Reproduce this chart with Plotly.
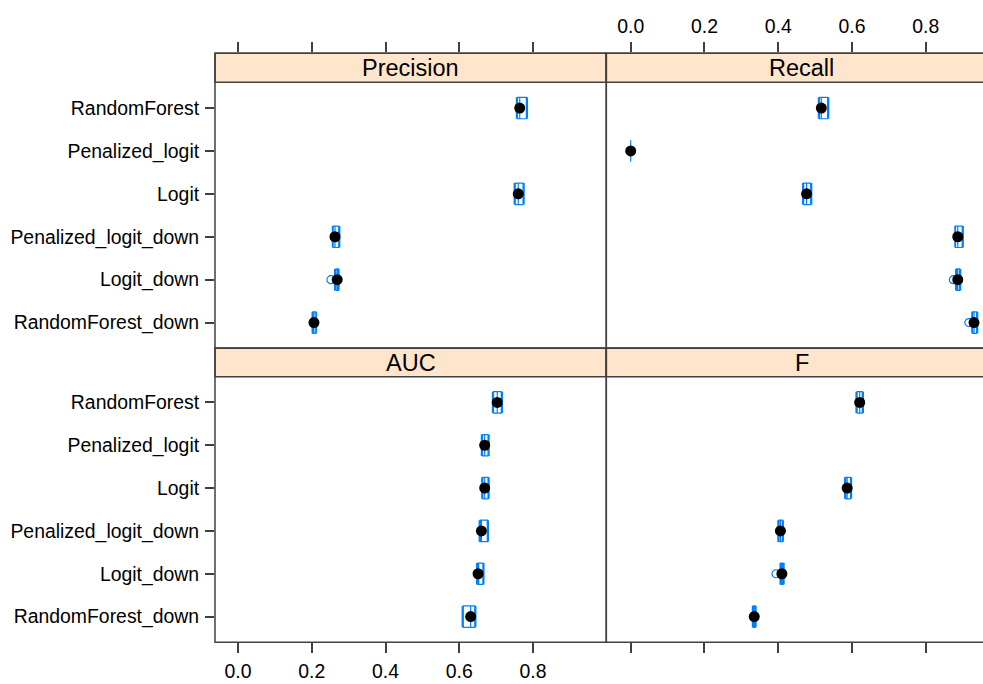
import plotly.graph_objects as go

W, H = 983, 684

models = ["RandomForest", "Penalized_logit", "Logit",
          "Penalized_logit_down", "Logit_down", "RandomForest_down"]
positions = [6, 5, 4, 3, 2, 1]

metrics = ["Precision", "Recall", "AUC", "F"]

precision_median = [0.764, None, 0.760, 0.263, 0.269, 0.206]
precision_q1 = [0.758, None, 0.752, 0.258, 0.265, 0.203]
precision_q3 = [0.782, None, 0.773, 0.273, 0.272, 0.211]
precision_lo = [0.755, None, 0.749, 0.256, 0.262, 0.201]
precision_hi = [0.785, None, 0.776, 0.276, 0.274, 0.213]
precision_out = {"Logit_down": [0.252]}

recall_median = [0.517, 0.0, 0.477, 0.887, 0.887, 0.931]
recall_q1 = [0.512, 0.0, 0.469, 0.881, 0.884, 0.927]
recall_q3 = [0.534, 0.0, 0.488, 0.899, 0.892, 0.938]
recall_lo = [0.509, 0.0, 0.466, 0.879, 0.881, 0.925]
recall_hi = [0.537, 0.0, 0.491, 0.902, 0.895, 0.941]
recall_out = {"Logit_down": [0.875], "RandomForest_down": [0.917]}

auc_median = [0.703, 0.669, 0.669, 0.660, 0.651, 0.631]
auc_q1 = [0.693, 0.663, 0.664, 0.657, 0.650, 0.611]
auc_q3 = [0.714, 0.678, 0.678, 0.676, 0.664, 0.642]
auc_lo = [0.690, 0.660, 0.661, 0.654, 0.647, 0.608]
auc_hi = [0.717, 0.681, 0.681, 0.679, 0.667, 0.645]
auc_out = {}

f_median = [0.621, None, 0.587, 0.406, 0.410, 0.335]
f_q1 = [0.614, None, 0.583, 0.402, 0.407, 0.332]
f_q3 = [0.628, None, 0.596, 0.411, 0.413, 0.338]
f_lo = [0.611, None, 0.580, 0.399, 0.405, 0.330]
f_hi = [0.631, None, 0.599, 0.414, 0.416, 0.340]
f_out = {"Logit_down": [0.394]}

tick_vals = [0.0, 0.2, 0.4, 0.6, 0.8]
tick_text = ["0.0", "0.2", "0.4", "0.6", "0.8"]

panel_data = [
    (precision_median, precision_q1, precision_q3, precision_lo, precision_hi, precision_out),
    (recall_median, recall_q1, recall_q3, recall_lo, recall_hi, recall_out),
    (auc_median, auc_q1, auc_q3, auc_lo, auc_hi, auc_out),
    (f_median, f_q1, f_q3, f_lo, f_hi, f_out),
]

BLUE = "#0080ff"
STRIP = "#ffe5cc"
LINE = "#404040"
FONT = "Liberation Sans, Arial, sans-serif"

# pixel geometry
xl0, xm, xr1 = 215.0, 606.3, 983.0
top_strip_top, top_strip_bot, mid = 53.3, 82.3, 348.3
bot_strip_bot, bot_bot = 376.7, 642.3

def px(x):
    return x / W

def py(y):
    return 1 - y / H

fig = go.Figure()

axis_names = [("x", "y"), ("x2", "y2"), ("x3", "y3"), ("x4", "y4")]

for i, (med, q1, q3, lo, hi, outs) in enumerate(panel_data):
    xa, ya = axis_names[i]
    ys, m_, a, b, l, h = [], [], [], [], [], []
    for j in range(len(models)):
        if med[j] is None:
            continue
        ys.append(positions[j]); m_.append(med[j]); a.append(q1[j]); b.append(q3[j])
        l.append(lo[j]); h.append(hi[j])
    fig.add_trace(go.Box(
        y=ys, median=m_, q1=a, q3=b, lowerfence=l, upperfence=h,
        orientation="h", width=0.5, whiskerwidth=1,
        line=dict(color=BLUE, width=1.2), fillcolor="rgba(255,255,255,0)",
        boxpoints=False, xaxis=xa, yaxis=ya, showlegend=False, hoverinfo="skip",
    ))
    ox, oy = [], []
    for name, vals in outs.items():
        for v in vals:
            ox.append(v); oy.append(positions[models.index(name)])
    if ox:
        fig.add_trace(go.Scatter(
            x=ox, y=oy, mode="markers", xaxis=xa, yaxis=ya, showlegend=False,
            marker=dict(symbol="circle-open", size=8, color=BLUE, line=dict(width=1.2)),
        ))
    fig.add_trace(go.Scatter(
        x=m_, y=ys, mode="markers", xaxis=xa, yaxis=ya, showlegend=False,
        marker=dict(symbol="circle", size=11, color="black"),
    ))

x_left_dom = [px(xl0), px(xm)]
x_right_dom = [px(xm), 1.0]
y_top_dom = [py(mid), py(top_strip_top)]
y_bot_dom = [py(bot_bot), py(mid)]

ppu = (533 - 238) / 0.8
x_left_range = [-(238 - xl0) / ppu, -(238 - xl0) / ppu + (xm - xl0) / ppu]
x_right_range = [-(630.7 - xm) / ppu, -(630.7 - xm) / ppu + (xr1 - xm) / ppu]

top_lo, top_hi = 0.4, 6.6
bot_lo, bot_hi = 0.4, 6.6
top_ppu = (mid - top_strip_bot) / (top_hi - top_lo)
bot_ppu = (bot_bot - bot_strip_bot) / (bot_hi - bot_lo)
y_top_range = [top_lo, top_hi + (top_strip_bot - top_strip_top) / top_ppu]
y_bot_range = [bot_lo, bot_hi + (bot_strip_bot - mid) / bot_ppu]

font_tick = dict(family=FONT, size=19.4, color="black")

def xaxis(dom, rng, side, labels, yanchor, standoff):
    return dict(domain=dom, range=rng, side=side, anchor=yanchor,
                tickvals=tick_vals, ticktext=tick_text, ticks="outside",
                ticklen=10, tickwidth=1.5, tickcolor=LINE,
                showticklabels=labels, showgrid=False, zeroline=False,
                showline=False, tickfont=font_tick, ticklabelstandoff=standoff,
                automargin=False, fixedrange=True)

def yaxis(dom, rng, labels, xanchor):
    return dict(domain=dom, range=rng, anchor=xanchor,
                tickvals=positions if labels else [], ticktext=models if labels else [],
                ticks="outside" if labels else "", ticklen=9, tickwidth=1.5,
                tickcolor=LINE, showticklabels=labels, showgrid=False,
                zeroline=False, showline=False, tickfont=font_tick,
                ticklabelstandoff=2, automargin=False, fixedrange=True)

fig.update_layout(
    width=W, height=H, margin=dict(l=0, r=0, t=0, b=0, autoexpand=False),
    paper_bgcolor="white", plot_bgcolor="white",
    xaxis=xaxis(x_left_dom, x_left_range, "top", False, "y", 8),
    xaxis2=xaxis(x_right_dom, x_right_range, "top", True, "y2", 2),
    xaxis3=xaxis(x_left_dom, x_left_range, "bottom", True, "y3", 1),
    xaxis4=xaxis(x_right_dom, x_right_range, "bottom", False, "y4", 8),
    yaxis=yaxis(y_top_dom, y_top_range, True, "x"),
    yaxis2=yaxis(y_top_dom, y_top_range, False, "x2"),
    yaxis3=yaxis(y_bot_dom, y_bot_range, True, "x3"),
    yaxis4=yaxis(y_bot_dom, y_bot_range, False, "x4"),
)

shapes = []
annotations = []
strips = [
    (xl0, xm, top_strip_top, top_strip_bot, metrics[0]),
    (xm, xr1 + 5, top_strip_top, top_strip_bot, metrics[1]),
    (xl0, xm, mid, bot_strip_bot, metrics[2]),
    (xm, xr1 + 5, mid, bot_strip_bot, metrics[3]),
]
for x0, x1, y0, y1, label in strips:
    shapes.append(dict(type="rect", xref="paper", yref="paper",
                       x0=px(x0), x1=px(x1), y0=py(y1), y1=py(y0),
                       fillcolor=STRIP, line=dict(color=LINE, width=1.5), layer="above"))
    cx = (x0 + (x0 + (xm - xl0))) / 2
    annotations.append(dict(xref="paper", yref="paper",
                            x=px(cx), y=py((y0 + y1) / 2 + 0.5),
                            text=label, showarrow=False, xanchor="center", yanchor="middle",
                            font=dict(family=FONT, size=23.5, color="black")))
# panel borders
for x0, x1, y0, y1 in [(xl0, xm, top_strip_top, mid), (xm, xr1 + 5, top_strip_top, mid),
                       (xl0, xm, mid, bot_bot), (xm, xr1 + 5, mid, bot_bot)]:
    shapes.append(dict(type="rect", xref="paper", yref="paper",
                       x0=px(x0), x1=px(x1), y0=py(y1), y1=py(y0),
                       fillcolor="rgba(0,0,0,0)", line=dict(color=LINE, width=1.5), layer="above"))

fig.update_layout(shapes=shapes, annotations=annotations)

fig.write_html(
    "out.html",
    config={"displayModeBar": False},
    post_script="document.body.style.margin='0';document.body.style.padding='0';"
                "document.body.style.overflow='hidden';",
)
